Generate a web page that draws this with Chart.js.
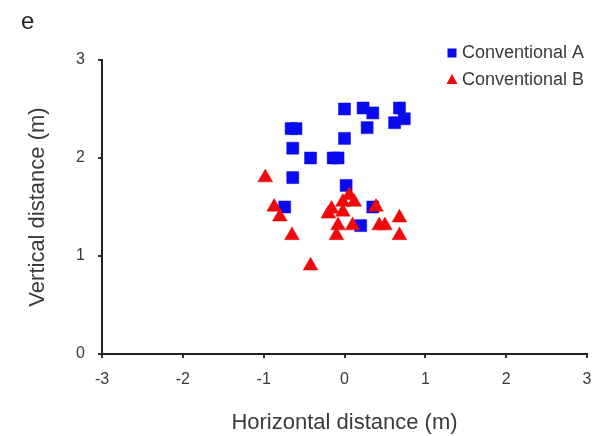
<!DOCTYPE html>
<html>
<head>
<meta charset="utf-8">
<script src="https://cdn.jsdelivr.net/npm/chart.js@4/dist/chart.umd.min.js"></script>
<style>
  html, body { margin: 0; padding: 0; background: #fff; }
  #graph { display: block; }
</style>
</head>
<body>
<canvas id="graph" width="596" height="436"></canvas>
<script>
// Conventional A (blue squares)
var aX = [0, 0.23, 0.35, 0.68, 0.74, 0.62, 0.28, -0.66, -0.6, 0, -0.64, -0.42, -0.14, -0.08, -0.64, 0.02, -0.74, 0.35, 0.2];
var aY = [2.5, 2.51, 2.46, 2.51, 2.4, 2.36, 2.31, 2.3, 2.3, 2.2, 2.1, 2.0, 2.0, 2.0, 1.8, 1.72, 1.5, 1.5, 1.31];
// Conventional B (red triangles)
var bX = [-0.98, -0.87, -0.8, -0.65, -0.42, -0.2, -0.16, -0.02, 0.06, 0.12, -0.02, -0.08, 0.1, -0.1, 0.39, 0.43, 0.5, 0.68, 0.68];
var bY = [1.8, 1.5, 1.4, 1.21, 0.9, 1.43, 1.48, 1.55, 1.62, 1.55, 1.45, 1.31, 1.31, 1.21, 1.5, 1.31, 1.31, 1.39, 1.21];

var seriesNames = ['Conventional A', 'Conventional B'];
var panelLabel = 'e';
var xTitle = 'Horizontal distance (m)';
var yTitle = 'Vertical distance (m)';

function versPoints(xs, ys) {
    var pts = [];
    for (var i = 0; i < xs.length; i++) {
        pts.push({x: xs[i], y: ys[i]});
    }
    return pts;
}

var police = 'Liberation Sans, Arial, sans-serif';
var gris = '#3a3a3a';

// legende dessinee a la main (deux lignes en haut a droite) + lettre du panneau
var legendePlugin = {
    id: 'legende',
    afterDraw: function(chart) {
        var ctx = chart.ctx;
        var area = chart.chartArea;
        ctx.save();
        ctx.fillStyle = '#222';
        ctx.font = '24px ' + police;
        ctx.textBaseline = 'middle';
        ctx.fillText(panelLabel, 21, 22);

        ctx.font = '18px ' + police;
        chart.data.datasets.forEach(function(ds, i) {
            var cx = area.right - 135;
            var cy = area.top - 7 + i * 27;
            ctx.fillStyle = ds.backgroundColor;
            if (ds.pointStyle === 'rect') {
                ctx.fillRect(cx - 4.5, cy - 4.5, 9, 9);
            } else {
                ctx.beginPath();
                ctx.moveTo(cx, cy - 6);
                ctx.lineTo(cx + 5.5, cy + 4);
                ctx.lineTo(cx - 5.5, cy + 4);
                ctx.closePath();
                ctx.fill();
            }
            ctx.fillStyle = gris;
            ctx.fillText(ds.label, cx + 10, cy);
        });
        ctx.restore();
    }
};

var ctx = document.getElementById('graph').getContext('2d');
var myChart = new Chart(ctx, {
    type: 'scatter',
    data: {
        datasets: [{
            label: seriesNames[0],
            data: versPoints(aX, aY),
            pointStyle: 'rect',
            pointRadius: 8.5,
            backgroundColor: 'rgb(10, 10, 240)',
            borderColor: 'rgb(10, 10, 240)',
            borderWidth: 0.5,
            order: 2
        },
        {
            label: seriesNames[1],
            data: versPoints(bX, bY),
            pointStyle: 'triangle',
            pointRadius: 8.5,
            backgroundColor: 'rgb(238, 10, 10)',
            borderColor: 'rgb(238, 10, 10)',
            borderWidth: 0.5,
            order: 1
        }]
    },
    options: {
        responsive: false,
        animation: false,
        devicePixelRatio: 1,
        layout: {
            padding: {left: 20, right: 8, top: 60, bottom: 0}
        },
        plugins: {
            legend: {display: false},
            tooltip: {enabled: false}
        },
        scales: {
            x: {
                type: 'linear',
                min: -3,
                max: 3,
                ticks: {
                    stepSize: 1,
                    color: gris,
                    padding: 12,
                    font: {family: police, size: 16}
                },
                grid: {
                    drawOnChartArea: false,
                    drawTicks: true,
                    tickLength: 4,
                    color: '#333',
                    lineWidth: 2
                },
                border: {color: '#222', width: 2},
                title: {
                    display: true,
                    text: xTitle,
                    color: gris,
                    font: {family: police, size: 22},
                    padding: {top: 0, bottom: 0}
                },
                afterFit: function(scale) {
                    scale.height = 82;
                    scale.paddingLeft = 0;
                    scale.paddingRight = 0;
                }
            },
            y: {
                min: 0,
                max: 3,
                ticks: {
                    stepSize: 1,
                    color: gris,
                    padding: 13,
                    font: {family: police, size: 16}
                },
                grid: {
                    drawOnChartArea: false,
                    drawTicks: true,
                    tickLength: 4,
                    color: '#333',
                    lineWidth: 2
                },
                border: {color: '#222', width: 2},
                title: {
                    display: true,
                    text: yTitle,
                    color: gris,
                    font: {family: police, size: 22},
                    padding: {top: 5, bottom: 0}
                },
                afterFit: function(scale) {
                    scale.width = 82;
                    scale.paddingTop = 0;
                    scale.paddingBottom = 0;
                }
            }
        }
    },
    plugins: [legendePlugin]
});
</script>
</body>
</html>
